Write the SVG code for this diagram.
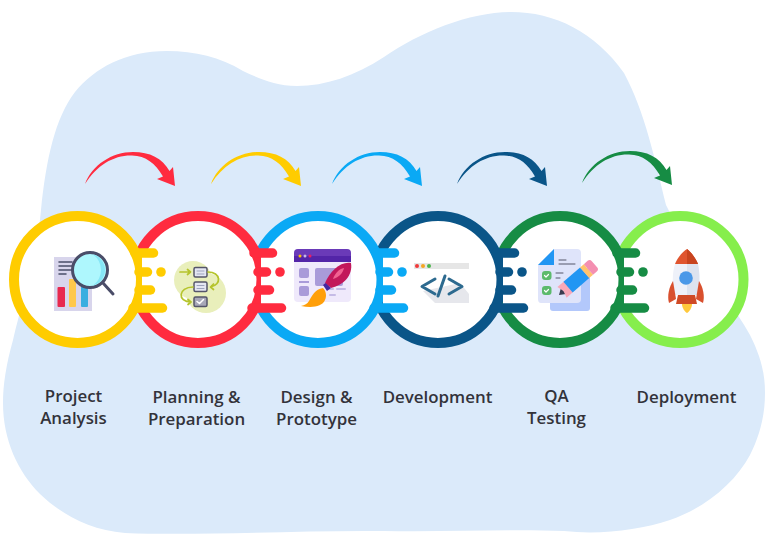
<svg xmlns="http://www.w3.org/2000/svg" width="767" height="550" viewBox="0 0 767 550">
<style>
.ring{fill:#fff;stroke-width:10}
.gap{fill:#fff;stroke:none}
.bar{stroke-width:9.5;stroke-linecap:round;fill:none}
.lbl{font-family:"Open Sans","Liberation Sans",sans-serif;font-weight:600;font-size:16.9px;fill:#33333a;text-anchor:middle}
.dot{stroke:none}
.ln{fill:none;stroke-linecap:round;stroke-linejoin:round}
</style>
<defs>
<path id="arc" d="M85,184C92,165 112,152 133,152C150,152 162,158 169.5,171L173,167L175,186L157,179L163,176.5C155,163 146,156 132,155.500C114,155 97,165 85,184Z"/>
<g id="teeth">
<rect class="gap" x="65" y="-27" width="8" height="55"/>
<path class="bar" d="M58,-27H76.500"/>
<path class="bar" d="M62,-8H70.500"/>
<path class="bar" d="M62,10H73.500"/>
<path class="bar" d="M56,28H85.500"/>
<circle class="dot" cx="84" cy="-8" r="4.800"/>
</g>
</defs>
<path id="blob" fill="#dbeafa" d="M511,12C470,12 420,32 384,57C355,76 325,86 297,86C275,86 258,78 243,71C220,57 195,51 167,51C125,51 95,68 75,92C55,118 46,160 41,210C36,265 22,300 13,340C6,365 3,385 3,403C3,440 18,472 40,494C62,515 90,530 125,533C200,536 300,530 384,531C450,532 510,529 564,531C600,535 640,530 670,520C705,508 735,483 750,455C760,435 765,415 765,393C765,372 760,355 750,335C728,295 690,255 666,205C655,160 645,112 624,73C595,32 555,12 511,12Z"/>
<g id="connectors">
<use href="#arc" fill="#ff2b3f"/>
<use href="#arc" x="126" fill="#ffcc00"/>
<use href="#arc" x="247" fill="#0aa9f5"/>
<use href="#arc" x="372" fill="#0a5588"/>
<use href="#arc" x="497" y="-1" fill="#168c44"/>
</g>
<g id="node-deployment">
<circle class="ring" stroke="#86ee4c" cx="680" cy="279.500" r="63.500"/>
<path fill="#e0552f" d="M687,249C681,253 677,259 675,264H698C696,259 692,253 687,249Z"/>
<path fill="#c8441f" d="M687,249C692,253 696,259 698,264H687Z"/>
<path fill="#eef1f9" d="M675,264C672,274 672,286 675,295H697C700,286 700,274 698,264Z"/>
<path fill="#dde3ef" d="M687,264H698C700,274 700,286 697,295H687Z"/>
<circle cx="686" cy="278" r="6.800" fill="#4a98e8"/>
<path fill="#d9502e" d="M673,281C669,287 667,296 669,303L676,299C675,293 674,287 673,281Z"/>
<path fill="#d9502e" d="M699,281C703,287 705,296 703,303L696,299C697,293 698,287 699,281Z"/>
<path fill="#cf4a26" d="M678,295H695L697,304H676Z"/>
<path fill="#ffc93c" d="M682,304H692C692,308 689,312 687,313C685,312 682,308 682,304Z"/>
</g>
<g id="node-qa">
<circle class="ring" stroke="#168c44" cx="560" cy="279.500" r="63.500"/>
<use href="#teeth" x="559" y="280" stroke="#168c44" fill="#168c44"/>
<rect x="550" y="268" width="40" height="43" rx="3" fill="#b3c8fb"/>
<path fill="#dfe4fa" d="M554,249H577Q581,249 581,253V299Q581,303 577,303H541Q538,303 538,299V265Z"/>
<path fill="#2196f3" d="M554,249V265H538Z"/>
<path class="ln" stroke="#55566b" stroke-width="1" d="M559,260H566M559,264H575M556,273H563M556,278H560"/>
<rect x="542" y="271" width="9.500" height="9" rx="3" fill="#5cba6c"/>
<rect x="542" y="286" width="9.500" height="9" rx="3" fill="#5cba6c"/>
<path class="ln" stroke="#fff" stroke-width="1.200" d="M544.500,275.500l1.500,1.500l2.500,-2.500M544.500,290.500l1.500,1.500l2.500,-2.500"/>
<g transform="translate(559,295) rotate(-41)">
<path fill="#3b3b4f" d="M0,0L6,-4V4Z"/>
<path fill="#f7a8b8" d="M4,-7L13,-7V7L4,7L6,0Z"/>
<rect x="12" y="-7" width="22" height="14" fill="#2196f3"/>
<rect x="34" y="-7" width="5" height="14" fill="#ffc36b"/>
<path fill="#f48fb1" d="M39,-7H44Q47,-7 47,-4V4Q47,7 44,7H39Z"/>
</g>
</g>
<g id="node-development">
<circle class="ring" stroke="#0a5588" cx="438" cy="279.500" r="63.500"/>
<use href="#teeth" x="438" y="280" stroke="#0a5588" fill="#0a5588"/>
<path fill="#e6e7ec" d="M423,291L460,283L469,294V303H435Z"/>
<rect x="414" y="263" width="55" height="6" fill="#e6e6e6"/>
<circle cx="417" cy="266" r="2" fill="#f03a3a"/><circle cx="423" cy="266" r="2" fill="#f5a623"/><circle cx="429" cy="266" r="2" fill="#4cb54c"/>
<path class="ln" stroke="#2d6a8f" stroke-width="3" d="M435,279L422,286.500L435,294M445,276L438,296M449,279L462,286.500L449,294"/>
</g>
<g id="node-design">
<circle class="ring" stroke="#0aa9f5" cx="318" cy="279.500" r="63.500"/>
<use href="#teeth" x="318" y="280" stroke="#0aa9f5" fill="#0aa9f5"/>
<rect x="294" y="249" width="57" height="53" rx="4" fill="#efe9fb"/>
<path fill="#6a3ab8" d="M294,262V253Q294,249 298,249H347Q351,249 351,253V262Z"/>
<rect x="294" y="256" width="57" height="6" fill="#5325a8"/>
<circle cx="300" cy="256" r="1.500" fill="#ffc107"/><circle cx="305" cy="256" r="1.500" fill="#c7b8e8"/><circle cx="310" cy="256" r="1.500" fill="#e91e63"/>
<rect x="299" y="268" width="10" height="10" rx="2" fill="#a99bd9"/>
<rect x="299" y="286" width="10" height="10" rx="2" fill="#a99bd9"/>
<rect x="299" y="281" width="10" height="2" fill="#a99bd9"/>
<rect x="315" y="268" width="28" height="18" rx="2" fill="#a99bd9"/>
<path class="ln" stroke="#c5bbe6" stroke-width="2" d="M328,289H333M337,289H345M330,295H335"/>
<path fill="#c2185b" d="M351,263C341,261 330,271 325,283L331,288C344,285 353,275 351,263Z"/>
<path fill="#f06292" d="M344,268C339,269 335,273 333,279C339,277 343,273 344,268Z"/>
<path fill="#4527a0" d="M323,285L325.500,283L331,288L327,291Z"/>
<path fill="#ff9f0a" d="M323,288C315,289 312,296 309,301C307,304 305,305 301,306C312,308 322,307 325,300C327,296 326,291 323,288Z"/>
</g>
<g id="node-planning">
<circle class="ring" stroke="#ff2b3f" cx="198" cy="279.500" r="63.500"/>
<use href="#teeth" x="196" y="280" stroke="#ff2b3f" fill="#ff2b3f"/>
<circle cx="193" cy="280" r="19" fill="#e9efbb"/>
<circle cx="206" cy="293" r="20" fill="#e9efbb"/>
<g fill="#e4e6f2" stroke="#55556a" stroke-width="1.500">
<rect x="194" y="267.500" width="13" height="9.500" rx="1.500"/>
<rect x="194" y="282" width="13" height="9.500" rx="1.500"/>
<rect x="194" y="297" width="13" height="9.500" rx="1.500" fill="#a8a8b8"/>
</g>
<path class="ln" stroke="#9ea3bd" stroke-width="1" d="M197,271H204M197,274H204M197,285.500H204M197,288.500H204"/>
<path class="ln" stroke="#fff" stroke-width="1.500" d="M197,301.500l2.500,2l4,-4"/>
<path class="ln" stroke="#b5c42c" stroke-width="1.700" d="M180,272H190M187.500,269.500L190.500,272L187.500,274.500M208,272C221,272 222,285 210.500,287M213.500,284L210.500,287L213.500,289.500M193,287C178,287 177,302 191,302M188,299.500L191,302L188,304.500"/>
</g>
<g id="node-analysis">
<circle class="ring" stroke="#ffcc00" cx="77.500" cy="279.500" r="63.500"/>
<use href="#teeth" x="77" y="280" stroke="#ffcc00" fill="#ffcc00"/>
<rect x="54" y="257" width="38" height="54" fill="#d8d5ec"/>
<rect x="57.500" y="287" width="7.500" height="20" rx="1" fill="#e8294f"/>
<rect x="69" y="279" width="7" height="28" rx="1" fill="#ffc84a"/>
<rect x="81" y="285" width="7" height="22" rx="1" fill="#3aaee0"/>
<path class="ln" stroke="#4a4d68" stroke-width="1.500" d="M59,262H72M59,266H72M59,270H72M59,274H66"/>
<circle cx="90" cy="270" r="17.500" fill="#aef7fd" stroke="#4a4d68" stroke-width="3"/>
<path fill="#86e6f6" d="M93,254.500A16,16 0 0 1 93,285.500A19,19 0 0 0 93,254.500Z"/>
<path class="ln" stroke="#4a4d68" stroke-width="3" d="M103,283L113,294"/>
</g>
<g id="labels">
<text class="lbl" x="73.500" y="402">Project</text><text class="lbl" x="73.500" y="424">Analysis</text>
<text class="lbl" x="196.500" y="403">Planning &amp;</text><text class="lbl" x="196.500" y="425">Preparation</text>
<text class="lbl" x="316.500" y="403">Design &amp;</text><text class="lbl" x="316.500" y="425">Prototype</text>
<text class="lbl" x="437.500" y="403">Development</text>
<text class="lbl" x="556.500" y="402">QA</text><text class="lbl" x="556.500" y="424">Testing</text>
<text class="lbl" x="686.500" y="403">Deployment</text>
</g>
</svg>
